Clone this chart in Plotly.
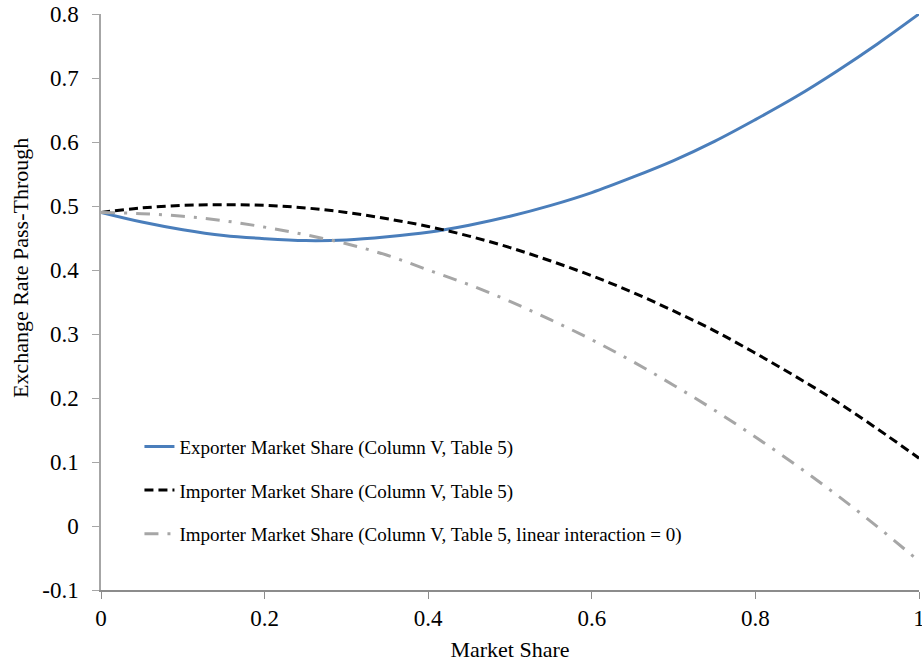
import plotly.graph_objects as go

market_share = [0.00, 0.05, 0.10, 0.15, 0.20, 0.25, 0.30, 0.35, 0.40, 0.45, 0.50,
                0.55, 0.60, 0.65, 0.70, 0.75, 0.80, 0.85, 0.90, 0.95, 1.00]

exporter = [0.490, 0.475, 0.463, 0.454, 0.449, 0.446, 0.447, 0.452, 0.459, 0.470, 0.484,
            0.501, 0.521, 0.545, 0.571, 0.601, 0.635, 0.671, 0.711, 0.754, 0.800]

importer = [0.490, 0.497, 0.501, 0.502, 0.501, 0.497, 0.490, 0.480, 0.468, 0.453, 0.435,
            0.414, 0.391, 0.365, 0.336, 0.305, 0.270, 0.233, 0.194, 0.151, 0.106]

importer_lin0 = [0.490, 0.488, 0.484, 0.477, 0.467, 0.455, 0.441, 0.423, 0.400, 0.377, 0.351,
                 0.322, 0.291, 0.257, 0.220, 0.181, 0.139, 0.095, 0.048, -0.002, -0.055]

names = ["Exporter Market Share (Column V, Table 5)",
         "Importer Market Share (Column V, Table 5)",
         "Importer Market Share (Column V, Table 5, linear interaction = 0)"]

y_ticks = [-0.1, 0, 0.1, 0.2, 0.3, 0.4, 0.5, 0.6, 0.7, 0.8]
y_tick_text = ["-0.1", "0", "0.1", "0.2", "0.3", "0.4", "0.5", "0.6", "0.7", "0.8"]
x_ticks = [0, 0.2, 0.4, 0.6, 0.8, 1]
x_tick_text = ["0", "0.2", "0.4", "0.6", "0.8", "1"]

x_title = "Market Share"
y_title = "Exchange Rate Pass-Through"

FONT = "Liberation Serif"

fig = go.Figure()
fig.add_trace(go.Scatter(x=market_share, y=exporter, mode="lines", name=names[0],
                         legendgroup="a",
                         line=dict(color="#4a7ebb", width=3, shape="spline")))
fig.add_trace(go.Scatter(x=market_share, y=importer, mode="lines", name=names[1],
                         legendgroup="b",
                         line=dict(color="#000000", width=3, dash="9px,5px", shape="spline")))
fig.add_trace(go.Scatter(x=market_share, y=importer_lin0, mode="lines", name=names[2],
                         legendgroup="c",
                         line=dict(color="#a6a6a6", width=3, dash="14px,9px,3px,9px", shape="spline")))

fig.update_layout(
    width=922, height=662,
    margin=dict(l=101, r=3, t=14, b=72),
    plot_bgcolor="white", paper_bgcolor="white",
    font=dict(family=FONT, color="#000000"),
    showlegend=True,
    legend=dict(x=0.047, y=0.282, xanchor="left", yanchor="top",
                bgcolor="rgba(0,0,0,0)", font=dict(size=19, family=FONT),
                tracegroupgap=16, itemwidth=30),
    xaxis=dict(range=[0, 1], tickvals=x_ticks, ticktext=x_tick_text,
               showgrid=False, zeroline=False, showline=True, linecolor="#8c8c8c",
               linewidth=1.5, ticks="outside", ticklen=7, tickcolor="#8c8c8c",
               tickfont=dict(size=23, family=FONT, color="#000000"),
               automargin=False, ticklabeloverflow="allow",
               title=dict(text=x_title, font=dict(size=22, family=FONT), standoff=12)),
    yaxis=dict(range=[-0.1, 0.8], tickvals=y_ticks, ticktext=y_tick_text,
               showgrid=False, zeroline=False, showline=True, linecolor="#a6a6a6",
               linewidth=1.5, ticks="outside", ticklen=7, tickcolor="#a6a6a6",
               tickfont=dict(size=23, family=FONT, color="#000000"),
               ticklabelstandoff=9,
               automargin=False, ticklabeloverflow="allow"),
    annotations=[dict(text=y_title, xref="paper", yref="paper", x=-0.099, y=0.559,
                      xanchor="center", yanchor="middle", textangle=-90, showarrow=False,
                      font=dict(size=22, family=FONT, color="#000000"))],
)

# remove the default page margin so the 922x662 figure fills the window exactly
fig.write_html("out.html",
               config={"displayModeBar": False},
               post_script="document.body.style.margin='0px';document.body.style.overflow='hidden';")
